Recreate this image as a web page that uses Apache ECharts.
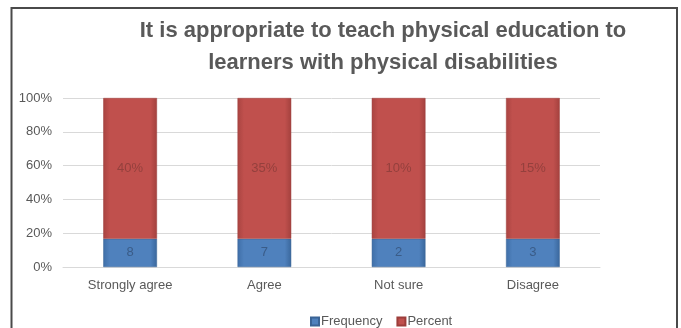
<!DOCTYPE html>
<html><head><meta charset="utf-8">
<script src="https://cdn.jsdelivr.net/npm/echarts@6/dist/echarts.min.js"></script>
<style>html,body{margin:0;padding:0;background:#fff}#c{width:681px;height:328px}</style>
</head><body><div id="c"></div>
<script>
const categories = ['Strongly agree', 'Agree', 'Not sure', 'Disagree'];
const frequency = [8, 7, 2, 3];
const percent = [40, 35, 10, 15];
const yTicks = [0, 20, 40, 60, 80, 100];

const totals = frequency.map((f, i) => f + percent[i]);
const freqShare = frequency.map((f, i) => f / totals[i] * 100);
const pctShare = percent.map((p, i) => p / totals[i] * 100);

const font = 'Liberation Sans';
function grad(c1, c2, c3) {
  return new echarts.graphic.LinearGradient(0, 0, 1, 0, [
    {offset: 0, color: c1}, {offset: 0.12, color: c2}, {offset: 0.88, color: c2}, {offset: 1, color: c3}
  ]);
}
const blue = grad('#3f6fa8', '#4f81bd', '#3a679c');
const red = grad('#a94441', '#c0504d', '#a3413e');

const chart = echarts.init(document.getElementById('c'));
chart.setOption({
  animation: false,
  title: {
    text: 'It is appropriate to teach physical education to\nlearners with physical disabilities',
    left: 378, top: 10, textAlign: 'center',
    textStyle: {fontFamily: font, fontWeight: 'bold', fontSize: 22, color: '#595959', lineHeight: 32}
  },
  legend: {
    data: ['Frequency', 'Percent'],
    left: 305, top: 310, itemWidth: 8, itemHeight: 8, itemGap: 14,
    icon: 'rect',
    textStyle: {fontFamily: font, fontSize: 13, color: '#595959', padding: [0, 0, 0, -3]}
  },
  graphic: [{
    type: 'rect', shape: {x: 11.5, y: 8, width: 665.5, height: 340},
    style: {fill: 'none', stroke: '#4a4a4a', lineWidth: 2}, silent: true
  }],
  grid: {left: 63, right: 81, top: 98, bottom: 61},
  xAxis: {
    type: 'category', data: categories,
    axisLine: {lineStyle: {color: '#d9d9d9'}}, axisTick: {show: false},
    axisLabel: {fontFamily: font, fontSize: 13, color: '#595959', margin: 12}
  },
  yAxis: {
    type: 'value', min: 0, max: 100, interval: 20,
    axisLine: {show: false}, axisTick: {show: false},
    splitLine: {lineStyle: {color: '#d9d9d9'}},
    axisLabel: {fontFamily: font, fontSize: 13, color: '#595959', margin: 11,
      formatter: v => yTicks.includes(v) ? v + '%' : ''}
  },
  series: [{
    name: 'Frequency', type: 'bar', stack: 's', barWidth: '40%',
    data: freqShare,
    itemStyle: {color: blue, borderColor: '#3a6496', borderWidth: 0.5},
    label: {show: true, position: 'inside', fontFamily: font, fontSize: 13, color: '#3a5c88',
      formatter: p => frequency[p.dataIndex]}
  }, {
    name: 'Percent', type: 'bar', stack: 's', barWidth: '40%',
    data: pctShare,
    itemStyle: {color: red, borderColor: '#9c3d3a', borderWidth: 0.5},
    label: {show: true, position: 'inside', fontFamily: font, fontSize: 13, color: '#94403d',
      formatter: p => percent[p.dataIndex] + '%'}
  }]
});
</script></body></html>
